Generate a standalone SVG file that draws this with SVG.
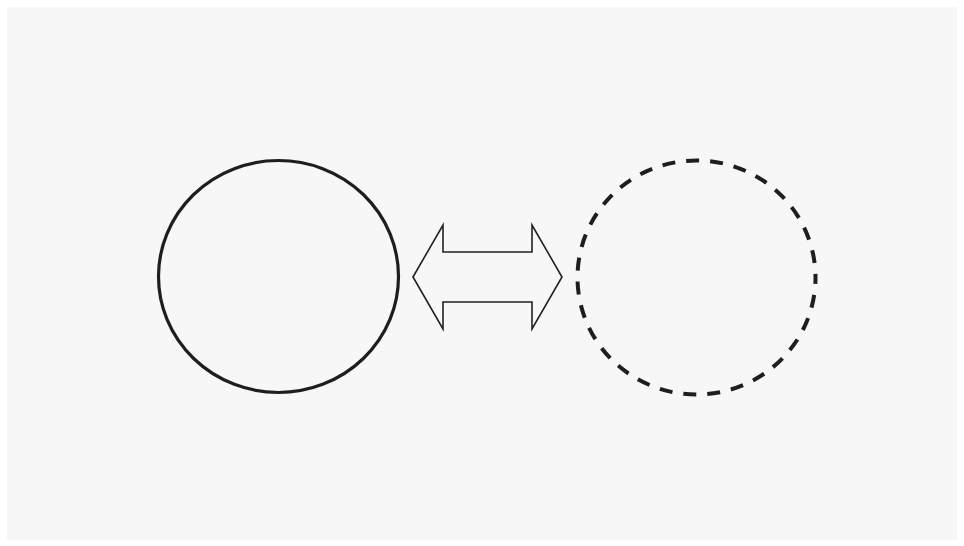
<svg xmlns="http://www.w3.org/2000/svg" width="964" height="546" viewBox="0 0 964 546">
<style>
.node{fill:none;stroke:#1e1e1e;stroke-width:3.2}
.dashed{stroke-width:4;stroke-dasharray:13 11;stroke-dashoffset:6.5}
.conn{fill:#f7f7f7;stroke:#222;stroke-width:1.6;stroke-linejoin:miter}
</style>
<rect x="0" y="0" width="964" height="546" fill="#ffffff"/>
<rect x="7" y="7" width="950" height="533" fill="#f7f7f7"/>
<g id="circle-solid">
<ellipse class="node" cx="278.5" cy="276.5" rx="120" ry="116"/>
</g>
<g id="circle-dashed">
<ellipse class="node dashed" cx="696.5" cy="277.5" rx="119" ry="117"/>
</g>
<g id="connectors">
<path class="conn" d="M413,277 L443,225 L443,252 L532,252 L532,225 L562,277 L532,329 L532,302 L443,302 L443,329 Z"/>
</g>
</svg>
